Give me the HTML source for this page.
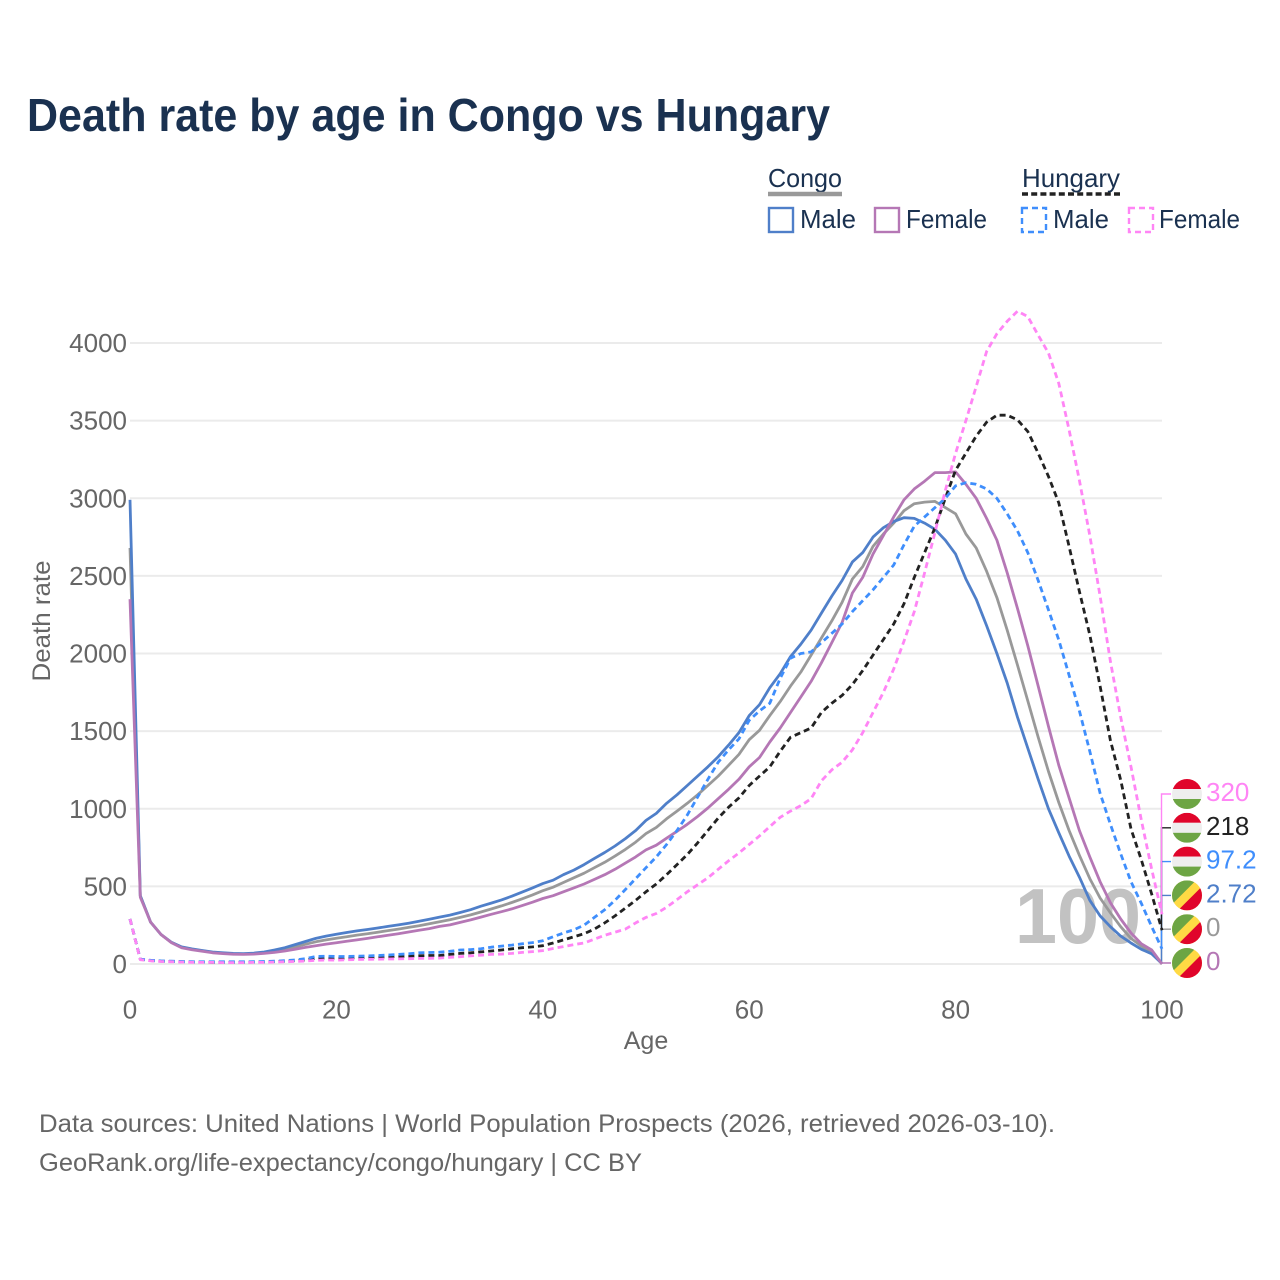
<!DOCTYPE html>
<html lang="en">
<head>
<meta charset="utf-8">
<title>Death rate by age in Congo vs Hungary</title>
<style>
html,body{margin:0;padding:0;background:#fff;width:1280px;height:1280px;overflow:hidden}
svg{display:block;font-family:"Liberation Sans",sans-serif}
</style>
</head>
<body>
<svg id="chart" xmlns="http://www.w3.org/2000/svg" width="1280" height="1280" viewBox="0 0 1280 1280">
<defs>
<clipPath id="flag-clip"><circle cx="0" cy="0" r="15"/></clipPath>
<g id="flag-hungary"><g clip-path="url(#flag-clip)"><rect x="-15" y="-15" width="30" height="10" fill="#e0052b"/><rect x="-15" y="-5" width="30" height="10" fill="#eeeeee"/><rect x="-15" y="5" width="30" height="10" fill="#6da544"/></g></g>
<g id="flag-congo"><g clip-path="url(#flag-clip)"><rect x="-15" y="-15" width="30" height="30" fill="#ffda44"/><polygon points="-15,-15 9,-15 -15,9" fill="#6da544"/><polygon points="15,15 -9,15 15,-9" fill="#e0052b"/></g></g>
</defs>
<text x="27" y="131" font-size="46" font-weight="bold" fill="#1a3150" textLength="803" lengthAdjust="spacingAndGlyphs">Death rate by age in Congo vs Hungary</text>

<g>
<text x="768" y="187" font-size="26" fill="#1a3150" textLength="74" lengthAdjust="spacingAndGlyphs">Congo</text>
<line x1="768" y1="194" x2="842" y2="194" stroke="#999999" stroke-width="4.5"/>
<rect x="769" y="208" width="24" height="24" fill="none" stroke="#4f7fc9" stroke-width="2.4"/>
<text x="800" y="228" font-size="26" fill="#1a3150" textLength="56" lengthAdjust="spacingAndGlyphs">Male</text>
<rect x="875" y="208" width="24" height="24" fill="none" stroke="#b577b5" stroke-width="2.4"/>
<text x="906" y="228" font-size="26" fill="#1a3150" textLength="81" lengthAdjust="spacingAndGlyphs">Female</text>
<text x="1022" y="187" font-size="26" fill="#1a3150" textLength="98" lengthAdjust="spacingAndGlyphs">Hungary</text>
<line x1="1022" y1="194" x2="1120" y2="194" stroke="#222222" stroke-width="3.5" stroke-dasharray="6 3.2"/>
<rect x="1022" y="208" width="24" height="24" fill="none" stroke="#3f8efc" stroke-width="2.4" stroke-dasharray="6 4"/>
<text x="1053" y="228" font-size="26" fill="#1a3150" textLength="56" lengthAdjust="spacingAndGlyphs">Male</text>
<rect x="1129" y="208" width="24" height="24" fill="none" stroke="#ff85f5" stroke-width="2.4" stroke-dasharray="6 4"/>
<text x="1159" y="228" font-size="26" fill="#1a3150" textLength="81" lengthAdjust="spacingAndGlyphs">Female</text>
</g>

<g id="grid"></g>
<g id="y-ticks"></g>
<g id="x-ticks"></g>
<text transform="translate(50 621) rotate(-90)" text-anchor="middle" font-size="25" fill="#666666" textLength="121" lengthAdjust="spacingAndGlyphs">Death rate</text>
<text x="646" y="1049" text-anchor="middle" font-size="25" fill="#666666">Age</text>
<text id="age-watermark" x="1078" y="943" text-anchor="middle" font-size="78" font-weight="bold" fill="#c2c2c2" textLength="126" lengthAdjust="spacingAndGlyphs">100</text>
<g id="connectors"></g>
<g id="lines"></g>
<g id="end-labels"></g>

<text x="39" y="1132" font-size="25" fill="#666666" textLength="1016" lengthAdjust="spacingAndGlyphs">Data sources: United Nations | World Population Prospects (2026, retrieved 2026-03-10).</text>
<text x="39" y="1171" font-size="25" fill="#666666" textLength="603" lengthAdjust="spacingAndGlyphs">GeoRank.org/life-expectancy/congo/hungary | CC BY</text>
</svg>
<script>
var xTickValues = [0, 20, 40, 60, 80, 100];
var yTickValues = [0, 500, 1000, 1500, 2000, 2500, 3000, 3500, 4000];

var congoMale = [2990,440,270,190,140,110,97,87,77,72,68,67,70,77,90,105,125,145,165,180,192,203,213,222,232,242,252,263,275,288,302,315,332,350,372,392,413,437,463,490,518,540,575,605,640,680,718,760,808,860,925,970,1035,1090,1150,1210,1270,1335,1410,1490,1600,1670,1780,1870,1980,2060,2150,2260,2370,2470,2590,2650,2750,2810,2850,2875,2870,2840,2800,2730,2640,2480,2350,2180,2000,1810,1590,1390,1190,1000,845,695,560,410,310,240,180,135,95,65,2.72];
var congoTotal = [2680,440,270,190,140,108,95,85,75,70,66,65,67,73,83,95,110,127,143,155,166,176,186,195,205,215,225,236,247,259,272,285,300,316,335,354,374,396,420,445,472,495,525,555,585,620,655,695,738,785,840,880,935,985,1035,1090,1150,1210,1280,1350,1445,1505,1600,1690,1790,1880,1990,2100,2210,2330,2480,2560,2690,2770,2840,2920,2965,2975,2980,2940,2900,2770,2680,2530,2360,2150,1925,1695,1460,1240,1040,860,700,550,425,330,240,165,115,75,0];
var congoFemale = [2350,430,270,190,138,105,92,82,72,67,63,62,64,68,75,84,95,107,118,128,137,146,155,165,175,185,195,206,217,228,242,252,268,284,302,320,337,355,376,398,422,440,465,490,515,545,575,610,650,690,735,765,810,855,900,950,1005,1065,1125,1190,1270,1330,1430,1520,1620,1720,1820,1940,2070,2200,2390,2490,2640,2760,2880,2990,3060,3110,3165,3165,3170,3090,3000,2870,2730,2520,2290,2050,1790,1530,1280,1070,860,690,530,395,290,200,130,90,0];
var hungaryMale = [290,32,24,20,18,16,15,14,14,14,14,14,15,16,18,21,26,34,48,50,48,48,50,52,55,58,62,66,72,74,76,82,90,93,98,108,115,122,130,138,150,175,200,220,250,300,350,410,480,550,620,690,770,860,960,1075,1190,1300,1380,1450,1570,1630,1680,1840,1970,2000,2010,2070,2130,2190,2270,2340,2410,2490,2570,2700,2820,2880,2940,3000,3080,3100,3090,3060,3000,2900,2790,2650,2470,2280,2087,1860,1630,1370,1100,900,710,530,390,240,97.2];
var hungaryTotal = [290,30,22,18,16,14,12,12,11,11,11,11,12,13,15,17,21,26,36,38,37,38,40,42,44,46,48,50,53,55,55,62,68,72,78,84,90,98,105,110,118,135,155,175,195,225,265,310,360,410,465,515,575,640,705,780,860,940,1010,1070,1150,1210,1270,1370,1460,1490,1520,1620,1680,1730,1800,1890,1990,2090,2190,2320,2490,2650,2810,3000,3180,3290,3400,3490,3535,3535,3505,3430,3290,3140,2970,2690,2400,2120,1790,1440,1185,870,670,450,218];
var hungaryFemale = [290,28,20,16,14,12,11,10,10,9,9,9,10,11,12,14,16,19,24,26,25,27,29,30,31,32,33,34,36,37,38,43,47,52,57,62,64,68,75,80,86,100,112,125,135,160,185,205,225,265,300,325,365,415,465,510,555,610,665,715,770,825,885,945,985,1020,1065,1180,1250,1300,1380,1490,1620,1750,1900,2080,2270,2520,2780,3050,3290,3500,3720,3945,4060,4140,4205,4170,4050,3935,3740,3440,3115,2760,2370,1950,1590,1270,925,610,320];

function xScale(age) { return 130 + age * 10.32; }
function yScale(v) { return 964 - v * 0.15525; }
function svgEl(tag, attrs) {
  var el = document.createElementNS('http://www.w3.org/2000/svg', tag);
  for (var k in attrs) { el.setAttribute(k, attrs[k]); }
  return el;
}
function pointsOf(values) {
  return values.map(function (v, age) { return xScale(age).toFixed(1) + ',' + yScale(v).toFixed(1); }).join(' ');
}
function labelOf(v) { return String(Number(v.toPrecision(3))); }

var grid = document.getElementById('grid');
var yTicks = document.getElementById('y-ticks');
var xTicks = document.getElementById('x-ticks');
yTickValues.forEach(function (v) {
  var g = svgEl('line', { x1: 130, x2: 1162, y1: yScale(v), y2: yScale(v), stroke: '#ebebeb', 'stroke-width': 2 });
  
  
  grid.appendChild(g);
  var t = svgEl('text', { x: 127, y: yScale(v) + 9, 'text-anchor': 'end', 'font-size': 26, fill: '#666666' });
  
  
  t.textContent = String(v);
  yTicks.appendChild(t);
});
xTickValues.forEach(function (v) {
  var t = svgEl('text', { x: xScale(v), y: 1018.5, 'text-anchor': 'middle', 'font-size': 26, fill: '#666666' });
  
  
  t.textContent = String(v);
  xTicks.appendChild(t);
});

var lines = document.getElementById('lines');
function drawLine(values, color, dash, name) {
  var p = svgEl('polyline', { points: pointsOf(values), fill: 'none', stroke: color, 'stroke-width': 2.8, 'stroke-linejoin': 'round' });
  if (dash) { p.setAttribute('stroke-dasharray', dash); }
  
  
  lines.appendChild(p);
}
drawLine(congoTotal, '#999999', '', 'line-congo-total');
drawLine(congoMale, '#4f7fc9', '', 'line-congo-male');
drawLine(congoFemale, '#b577b5', '', 'line-congo-female');
drawLine(hungaryTotal, '#222222', '6 4', 'line-hungary-total');
drawLine(hungaryMale, '#3f8efc', '6 4', 'line-hungary-male');
drawLine(hungaryFemale, '#ff85f5', '6 4', 'line-hungary-female');

var connectors = document.getElementById('connectors');
var endLabels = document.getElementById('end-labels');
function drawEnd(values, color, flag, slot, name) {
  var last = values[values.length - 1];
  var ly = 963 - slot * 33.8;
  var c = svgEl('polyline', { points: '1161.5,' + yScale(last).toFixed(1) + ' 1161.5,' + ly + ' 1171,' + ly, fill: 'none', stroke: color, 'stroke-width': 1.4 });
  
  
  connectors.appendChild(c);
  var f = svgEl('use', { href: '#flag-' + flag, x: 1187, y: ly });
  
  
  endLabels.appendChild(f);
  var t = svgEl('text', { x: 1206, y: ly + 7, 'font-size': 26, fill: color });
  
  
  t.textContent = labelOf(last);
  endLabels.appendChild(t);
}
drawEnd(congoFemale, '#b577b5', 'congo', 0, 'congo-female');
drawEnd(congoTotal, '#999999', 'congo', 1, 'congo-total');
drawEnd(congoMale, '#4f7fc9', 'congo', 2, 'congo-male');
drawEnd(hungaryMale, '#3f8efc', 'hungary', 3, 'hungary-male');
drawEnd(hungaryTotal, '#222222', 'hungary', 4, 'hungary-total');
drawEnd(hungaryFemale, '#ff85f5', 'hungary', 5, 'hungary-female');
</script>
</body>
</html>
